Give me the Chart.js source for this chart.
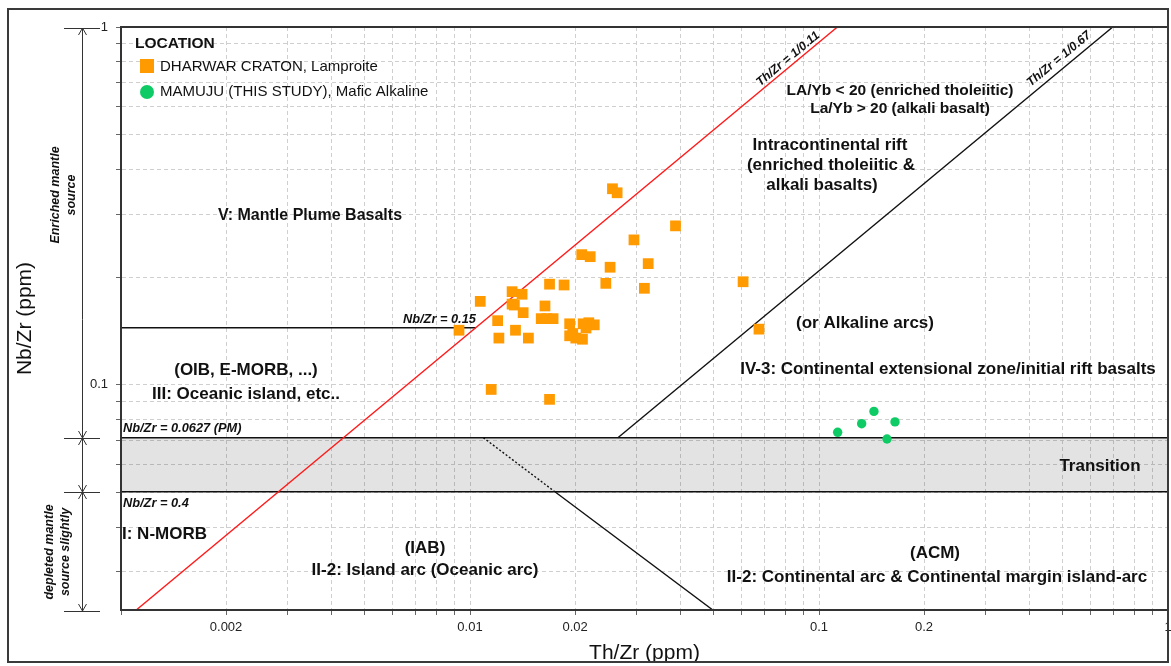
<!DOCTYPE html>
<html><head><meta charset="utf-8">
<script src="https://cdn.jsdelivr.net/npm/chart.js@4.4.1/dist/chart.umd.min.js"></script>
<style>html,body{margin:0;padding:0;background:#fff;overflow:hidden}#wrap{width:1171px;height:666px;position:relative}</style>
</head><body><div id="wrap"><canvas id="c" width="1171" height="666"></canvas></div>
<script>
// ---------- data ----------
const dharwarLabel = 'DHARWAR CRATON, Lamproite';
const dharwarTh = [0.0256,0.0264,0.0388,0.0295,0.0209,0.0221,0.0252,0.0324,0.0169,0.0186,0.0245,0.0316,0.0132,0.0141,0.0107,0.0132,0.0134,0.0164,0.0142,0.0120,0.0160,0.0166,0.0173,0.0135,0.0093,0.0193,0.0211,0.0219,0.0227,0.0215,0.0121,0.0147,0.0193,0.0201,0.0210,0.0197,0.0606,0.0673,0.0115,0.0169];
const dharwarNb = [0.353,0.344,0.278,0.254,0.231,0.228,0.213,0.218,0.191,0.190,0.192,0.186,0.182,0.179,0.171,0.168,0.167,0.166,0.159,0.151,0.153,0.153,0.153,0.142,0.142,0.148,0.148,0.149,0.147,0.144,0.135,0.135,0.137,0.135,0.134,0.139,0.194,0.143,0.097,0.091];
const mamujuLabel = 'MAMUJU (THIS STUDY), Mafic Alkaline';
const mamujuTh = [0.1131,0.1325,0.1437,0.1651,0.1566];
const mamujuNb = [0.0736,0.0778,0.0842,0.0787,0.0705];

// boundary lines (Th/Zr, Nb/Zr)
const bandTh = [0.001, 1];
const bandTopNb = [0.0711, 0.0711];
const bandBottomNb = [0.0502, 0.0502];
const plumeTh = [0.001, 0.01039];
const plumeNb = [0.1443, 0.1443];
const redTh = [0.001106, 0.1129];
const redNb = [0.02345, 1];
const blackTh = [0.02653, 0.6945];
const blackNb = [0.0711, 1];
const arcDotTh = [0.01092, 0.01751];
const arcDotNb = [0.0711, 0.0502];
const arcSolidTh = [0.01751, 0.04963];
const arcSolidNb = [0.0502, 0.02345];

// axes
const xMin = 0.001, xMax = 1;
const yMin = 0.02345, yMax = 1;
const xTickValues = [0.001,0.002,0.003,0.004,0.005,0.006,0.007,0.008,0.009,0.01,0.02,0.03,0.04,0.05,0.06,0.07,0.08,0.09,0.1,0.2,0.3,0.4,0.5,0.6,0.7,0.8,0.9,1];
const xTickLabels = ['','0.002','','','','','','','','0.01','0.02','','','','','','','','0.1','0.2','','','','','','','','1'];
const yTickValues = [0.03,0.04,0.05,0.06,0.07,0.08,0.09,0.1,0.2,0.3,0.4,0.5,0.6,0.7,0.8,0.9,1];
const yTickLabels = ['','','','','','','','0.1','','','','','','','','','1'];
const xTitle = 'Th/Zr (ppm)';
const yTitle = 'Nb/Zr (ppm)';

const pts = (xs, ys) => xs.map((x, i) => ({x: x, y: ys[i]}));

const ORANGE = '#ff9a00', GREEN = '#0fcb66';
const SANS = '"Liberation Sans", Arial, sans-serif';

const lineDs = (data, color, extra) => Object.assign({type:'line', data, borderColor: color, borderWidth: 1.4, pointRadius: 0, fill: false, tension: 0}, extra || {});

const annot = {
  id: 'annot',
  afterDraw(chart) {
    const ctx = chart.ctx, a = chart.chartArea;
    ctx.save();
    // plot border
    ctx.strokeStyle = '#333'; ctx.lineWidth = 2;
    ctx.strokeRect(a.left, a.top, a.right - a.left, a.bottom - a.top);
    // outer frame
    ctx.strokeStyle = '#3a3a3a'; ctx.lineWidth = 2;
    ctx.strokeRect(8, 9, 1160, 653);

    // texts
    ctx.fillStyle = '#111';
    ctx.textBaseline = 'middle';
    const T = (s, x, y, font, align) => { ctx.font = font; ctx.textAlign = align || 'center'; ctx.fillText(s, x, y); };
    const B = 'bold 17px ' + SANS;
    const B2 = 'bold 15.5px ' + SANS;
    const I = 'italic bold 12.8px ' + SANS;
    T('V: Mantle Plume Basalts', 310, 216, 'bold 16px ' + SANS);
    T('LA/Yb < 20 (enriched tholeiitic)', 900, 91, B2);
    T('La/Yb > 20 (alkali basalt)', 900, 109, B2);
    T('Intracontinental rift', 830, 145, B);
    T('(enriched tholeiitic &', 831, 165, B);
    T('alkali basalts)', 822, 185, B);
    T('(or Alkaline arcs)', 865, 323, B);
    T('IV-3: Continental extensional zone/initial rift basalts', 948, 369, B);
    T('(OIB, E-MORB, ...)', 246, 370, B);
    T('III: Oceanic island, etc..', 246, 394, B);
    T('Transition', 1100, 466, B);
    T('I: N-MORB', 122, 534, B, 'left');
    T('(IAB)', 425, 548, B);
    T('II-2: Island arc (Oceanic arc)', 425, 570, B);
    T('(ACM)', 935, 553, B);
    T('II-2: Continental arc & Continental margin island-arc', 937, 577, B);
    T('Nb/Zr = 0.15', 403, 319, I, 'left');
    T('Nb/Zr = 0.0627 (PM)', 123, 428, I, 'left');
    T('Nb/Zr = 0.4', 123, 503, I, 'left');
    // rotated line labels
    const ang = -Math.atan2(583, 702);
    const R = (s, x, y) => { ctx.save(); ctx.translate(x, y); ctx.rotate(ang); ctx.font = 'italic bold 12.3px ' + SANS; ctx.textAlign = 'center'; ctx.fillText(s, 0, 0); ctx.restore(); };
    R('Th/Zr = 1/0.11', 788, 59);
    R('Th/Zr = 1/0.67', 1059, 59);

    // legend
    T('LOCATION', 135, 44, 'bold 15.5px ' + SANS, 'left');
    ctx.fillStyle = ORANGE; ctx.fillRect(140, 59, 14, 14);
    ctx.fillStyle = GREEN; ctx.beginPath(); ctx.arc(147, 92, 7, 0, Math.PI * 2); ctx.fill();
    ctx.fillStyle = '#111';
    T(dharwarLabel, 160, 67, '15px ' + SANS, 'left');
    T(mamujuLabel, 160, 92, '15px ' + SANS, 'left');

    // left brackets
    ctx.strokeStyle = '#333'; ctx.lineWidth = 1;
    const bx = 82.5;
    const ys = [28, 438, 492, 611];
    ctx.beginPath();
    ctx.moveTo(bx, ys[0]); ctx.lineTo(bx, ys[3]);
    ys.forEach(y => { ctx.moveTo(64, y + 0.5); ctx.lineTo(100, y + 0.5); });
    for (let i = 0; i < 3; i++) {
      const y1 = ys[i], y2 = ys[i + 1];
      ctx.moveTo(bx - 4, y1 + 7); ctx.lineTo(bx, y1); ctx.lineTo(bx + 4, y1 + 7);
      ctx.moveTo(bx - 4, y2 - 7); ctx.lineTo(bx, y2); ctx.lineTo(bx + 4, y2 - 7);
    }
    ctx.stroke();
    ctx.fillStyle = '#111';
    const V = (lines, x0, yc) => {
      ctx.save(); ctx.translate(x0, yc); ctx.rotate(-Math.PI / 2);
      ctx.font = 'italic bold 12.5px ' + SANS; ctx.textAlign = 'center';
      lines.forEach((s, i) => ctx.fillText(s, 0, i * 16));
      ctx.restore();
    };
    V(['Enriched mantle', 'source'], 56, 195);
    V(['depleted mantle', 'source slightly'], 50, 552);
    ctx.restore();
  }
};

new Chart(document.getElementById('c'), {
  type: 'line',
  data: {
    datasets: [
      {type:'scatter', label: mamujuLabel, data: pts(mamujuTh, mamujuNb), backgroundColor: GREEN, borderWidth: 0, pointRadius: 4.7, pointStyle: 'circle'},
      {type:'scatter', label: dharwarLabel, data: pts(dharwarTh, dharwarNb), backgroundColor: ORANGE, borderWidth: 0, pointRadius: 7.6, pointStyle: 'rect'},
      lineDs(pts(redTh, redNb), '#ff1a1a'),
      lineDs(pts(blackTh, blackNb), '#111'),
      lineDs(pts(arcDotTh, arcDotNb), '#111', {borderDash: [2, 2]}),
      lineDs(pts(arcSolidTh, arcSolidNb), '#111'),
      lineDs(pts(plumeTh, plumeNb), '#111'),
      lineDs(pts(bandTh, bandTopNb), '#111', {fill: '+1', backgroundColor: 'rgba(0,0,0,0.11)'}),
      lineDs(pts(bandTh, bandBottomNb), '#111')
    ]
  },
  options: {
    responsive: false,
    devicePixelRatio: 1,
    animation: false,
    layout: {autoPadding: false, padding: {top: 27, right: 3, left: 0, bottom: 0}},
    plugins: {legend: {display: false}, tooltip: {enabled: false}},
    scales: {
      x: {
        type: 'logarithmic', position: 'bottom', min: xMin, max: xMax,
        afterBuildTicks: s => { s.ticks = xTickValues.map(v => ({value: v})); },
        afterFit: s => { s.height = 56; s.paddingLeft = 0; s.paddingRight = 0; },
        ticks: {autoSkip: false, maxRotation: 0, padding: 5, color: '#222', font: {family: SANS, size: 13},
                callback: (v, i) => xTickLabels[i]},
        grid: {color: '#cfcfcf', lineWidth: 1, tickLength: 5, tickColor: '#666', tickBorderDash: []},
        border: {display: true, color: '#333', width: 2, dash: [4, 3]},
        title: {display: true, text: xTitle, color: '#111', font: {family: SANS, size: 21}, padding: {top: 0, bottom: 0}}
      },
      y: {
        type: 'logarithmic', position: 'left', min: yMin, max: yMax,
        afterBuildTicks: s => { s.ticks = yTickValues.map(v => ({value: v})); },
        afterFit: s => { s.width = 121; s.paddingTop = 0; s.paddingBottom = 0; },
        ticks: {autoSkip: false, padding: 8, color: '#222', font: {family: SANS, size: 13},
                callback: (v, i) => yTickLabels[i]},
        grid: {color: '#cfcfcf', lineWidth: 1, tickLength: 5, tickColor: '#666', tickBorderDash: []},
        border: {display: true, color: '#333', width: 2, dash: [4, 3]},
        title: {display: true, text: yTitle, color: '#111', font: {family: SANS, size: 21}, padding: {top: 13, bottom: 0}}
      }
    }
  },
  plugins: [annot]
});
</script>
</body></html>
